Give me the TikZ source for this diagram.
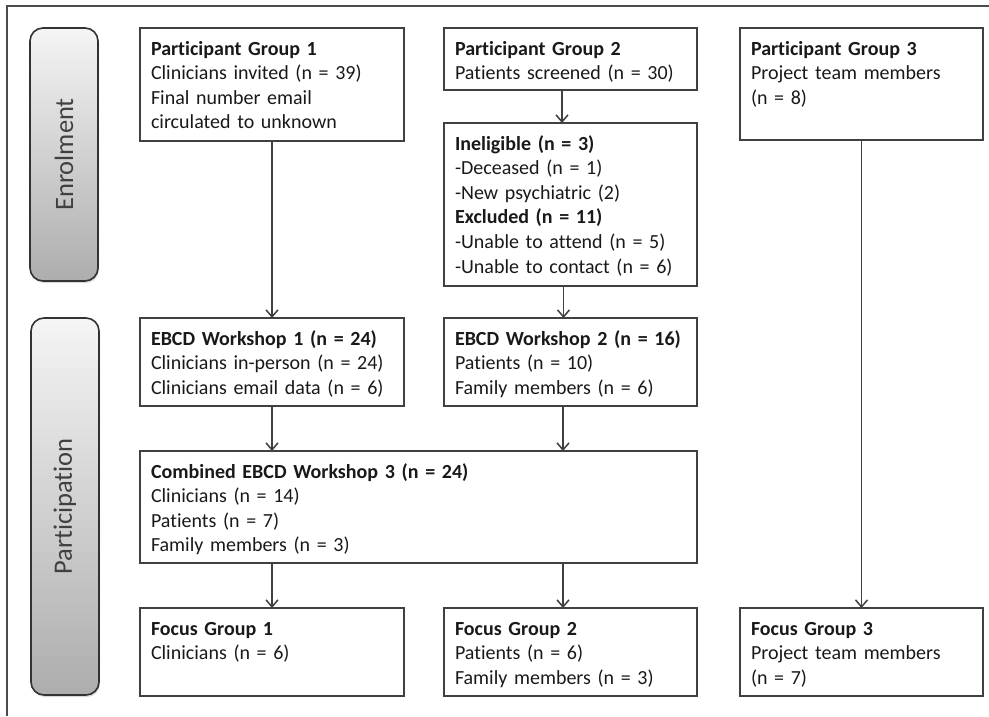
\documentclass[tikz,border=0pt]{standalone}
\usepackage{fontspec}
\setmainfont{Carlito}[Ligatures=NoCommon]
\usetikzlibrary{arrows.meta,positioning,shadows}
\definecolor{boxline}{HTML}{404040}
\definecolor{bartop}{HTML}{F5F5F5}
\definecolor{barbottom}{HTML}{ADADAD}
\tikzstyle{stage}=[
	rectangle,
	draw=boxline,
	line width=1.6pt,
	outer sep=0pt,
	inner xsep=11pt,
	inner ysep=8pt,
	text height=19pt,
	align=left,
	anchor=north west,
	text=black!90,
	font=\fontsize{20}{24.6}\selectfont
]
\tikzstyle{phase}=[
	rectangle,
	rounded corners=13pt,
	draw=black!80,
	line width=1.6pt,
	top color=bartop,
	bottom color=barbottom,
	minimum width=68pt,
	outer sep=0pt,
	anchor=north east,
	text=black!75,
	font=\fontsize{26.5}{30}\selectfont,
	drop shadow={opacity=0.3,shadow xshift=1pt,shadow yshift=-2pt}
]
\tikzstyle{flow}=[
	-{Straight Barb[length=7pt,width=12pt]},
	draw=boxline,
	line width=1.5pt
]

\begin{document}
\begin{tikzpicture}[x=1pt,y=-1pt]
\useasboundingbox (0,0) rectangle (989,716);
\draw [draw=black!70, line width=1.5pt] (7,716) -- (7,6) -- (989,6);

% top row
\node [stage, text width=242pt, text depth=78pt] (Group1) at (140,28)
	{\textbf{Participant Group 1}\\Clinicians invited (n = 39)\\Final number email\\circulated to unknown};
\node [stage, text width=231pt, text depth=27pt] (Group2) [right=40pt of Group1.north east, anchor=north west]
	{\textbf{Participant Group 2}\\Patients screened (n = 30)};
\node [stage, text width=221pt, text depth=77pt] (Group3) [right=43pt of Group2.north east, anchor=north west]
	{\textbf{Participant Group 3}\\Project team members\\(n = 8)};
\node [stage, text width=231pt, text depth=128pt] (Ineligible) [below=33pt of Group2.south west, anchor=north west]
	{\textbf{Ineligible (n = 3)}\\-Deceased (n = 1)\\-New psychiatric (2)\\\textbf{Excluded (n = 11)}\\-Unable to attend (n = 5)\\-Unable to contact (n = 6)};

% workshops
\node [stage, text width=231pt, text depth=53pt] (Workshop2) [below=32pt of Ineligible.south west, anchor=north west]
	{\textbf{EBCD Workshop 2 (n = 16)}\\Patients (n = 10)\\Family members (n = 6)};
\node [stage, text width=242pt, text depth=53pt] (Workshop1) [left=40pt of Workshop2.north west, anchor=north east]
	{\textbf{EBCD Workshop 1 (n = 24)}\\Clinicians in-person (n = 24)\\Clinicians email data (n = 6)};
\node [stage, text width=535pt, text depth=77pt] (Workshop3) [below=45pt of Workshop1.south west, anchor=north west]
	{\textbf{Combined EBCD Workshop 3 (n = 24)}\\Clinicians (n = 14)\\Patients (n = 7)\\Family members (n = 3)};

% focus groups
\node [stage, text width=242pt, text depth=53pt] (Focus1) [below=45pt of Workshop3.south west, anchor=north west]
	{\textbf{Focus Group 1}\\Clinicians (n = 6)};
\node [stage, text width=231pt, text depth=53pt] (Focus2) [right=40pt of Focus1.north east, anchor=north west]
	{\textbf{Focus Group 2}\\Patients (n = 6)\\Family members (n = 3)};
\node [stage, text width=221pt, text depth=53pt] (Focus3) [right=43pt of Focus2.north east, anchor=north west]
	{\textbf{Focus Group 3}\\Project team members\\(n = 7)};

% phases
\node [phase, minimum height=253pt] (Enrolment) [left=42pt of Group1.north west, anchor=north east]
	{\rotatebox{90}{Enrolment}};
\node [phase, minimum height=377pt] (Participation) [left=41pt of Workshop1.north west, anchor=north east]
	{\rotatebox{90}{Participation}};

% connectors
\draw [flow] (Group1) -- (Workshop1);
\draw [flow] (Group3) -- (Focus3);
\draw [flow] ([xshift=-8.5pt]Group2.south) -- ([xshift=-8.5pt]Ineligible.north);
\draw [flow] ([xshift=-7pt]Ineligible.south) -- ([xshift=-7pt]Workshop2.north);
\draw [flow] (Workshop1.south) -- (Workshop1.south |- Workshop3.north);
\draw [flow] ([xshift=-7.5pt]Workshop2.south) -- ([xshift=-7.5pt]Workshop2.south |- Workshop3.north);
\draw [flow] (Focus1.north |- Workshop3.south) -- (Focus1.north);
\draw [flow] ([xshift=-7.5pt]Focus2.north |- Workshop3.south) -- ([xshift=-7.5pt]Focus2.north);
\end{tikzpicture}
\end{document}
